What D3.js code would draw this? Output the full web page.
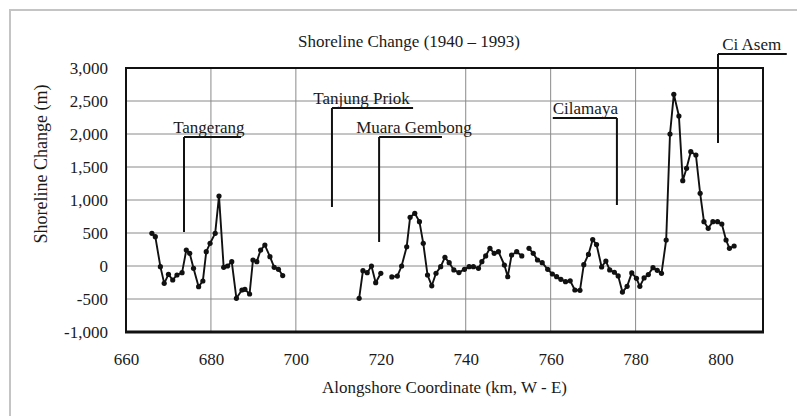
<!DOCTYPE html>
<html>
<head>
<meta charset="utf-8">
<script src="https://cdn.jsdelivr.net/npm/d3@7"></script>
<style>
  html, body { margin: 0; padding: 0; background: #fff; }
  svg { display: block; }
  svg text { font-family: "Liberation Serif", "Times New Roman", serif !important; fill: #1a1a1a; }
</style>
</head>
<body>
<svg id="chart" width="797" height="416"></svg>
<script>
// Shoreline change measured along the coast (km, west to east); null marks a gap in the survey
const km = [
  666.1, 666.9, 668.1, 669.0, 670.0, 671.0, 672.0, 673.2, 674.2, 675.0,
  675.9, 677.1, 678.1, 678.9, 679.8, 681.0, 681.9, 683.0, 683.9, 684.9,
  686.0, 687.3, 688.0, 689.1, 689.9, 690.8, 691.7, 692.7, 693.9, 694.9,
  695.9, 696.9,
  null,
  714.9, 715.8, 716.8, 717.8, 718.8, 720.0,
  null,
  722.6, 723.9, 724.9, 726.1, 726.9, 728.0, 729.1, 730.0, 731.0, 732.0,
  733.0, 734.1, 735.1, 736.1, 737.2, 738.4, 739.7, 740.8, 741.8, 743.0,
  743.8, 744.7, 745.7, 746.7, 747.7, 749.1, 749.9, 750.8, 752.0, 753.2,
  null,
  754.9, 755.9, 756.9, 758.0, 759.3, 760.4, 761.4, 762.4, 763.5, 764.6,
  765.7, 766.9, 767.8, 768.9, 769.9, 770.8, 772.0, 773.0, 773.9, 775.0,
  775.9, 776.9, 778.0, 779.1, 780.2, 781.0, 782.0, 783.0, 784.1, 785.1,
  786.1, 787.2, 788.1, 789.0, 790.2, 791.1, 792.0, 793.0, 794.2, 795.2,
  796.1, 797.1, 798.2, 799.3, 800.3, 801.3, 802.1, 803.2
];
const change = [
  495, 444, -10, -263, -126, -212, -136, -101, 242, 192,
  -35, -313, -227, 217, 344, 495, 1060, -20, 0, 66,
  -490, -364, -353, -424, 91, 66, 242, 318, 141, -20,
  -50, -145,
  null,
  -490, -71, -101, 0, -253, -111,
  null,
  -165, -152, 0, 292, 738, 798, 672, 344, -136, -300,
  -110, -10, 131, 50, -60, -100, -50, -10, -10, -35,
  66, 152, 268, 192, 217, 15, -162, 167, 217, 152,
  null,
  268, 192, 91, 50, -50, -121, -162, -202, -238, -225,
  -364, -368, 20, 175, 400, 325, -15, 75, -60, -95,
  -150, -395, -308, -105, -187, -308, -180, -130, -25, -65,
  -111, 394, 2000, 2601, 2273, 1293, 1480, 1732, 1682, 1101,
  672, 571, 672, 672, 636, 394, 268, 303
];

const xTicks = [660, 680, 700, 720, 740, 760, 780, 800];
const yTicks = [-1000, -500, 0, 500, 1000, 1500, 2000, 2500, 3000];
const xGridValues = [680, 700, 740, 760, 780];
const yGridValues = [-500, 0, 500, 1000, 1500, 2000, 2500];

// Coastal place names with their leader lines (km position, lower/upper end in metres)
const places = [
  { name: "Tangerang",     leaderKm: 673.66, low: 515,  high: 1955, barFrom: 673.66, barTo: 687.1, textKm: 671.1 },
  { name: "Tanjung Priok", leaderKm: 708.5,  low: 894,  high: 2394, barFrom: 708.5,  barTo: 727.6, textKm: 704.1 },
  { name: "Muara Gembong", leaderKm: 719.6,  low: 364,  high: 1955, barFrom: 719.6,  barTo: 734.4, textKm: 714.2 },
  { name: "Cilamaya",      leaderKm: 775.6,  low: 924,  high: 2242, barFrom: 760.5,  barTo: 775.6, textKm: 760.5 },
  { name: "Ci Asem",       leaderKm: 799.4,  low: 1864, high: 3212, barFrom: 799.4,  barTo: 815.6, textKm: 800.4 }
];

const svg = d3.select("#chart");
const plot = { left: 126, right: 763, top: 68, bottom: 332 };
const serif = '"Liberation Serif", "Times New Roman", serif';

// outer chart border
svg.append("rect")
  .attr("x", 10).attr("y", 10)
  .attr("width", 800).attr("height", 420)
  .attr("fill", "none").attr("stroke", "#c4c4c4").attr("stroke-width", 2);

const x = d3.scaleLinear().domain([660, 810]).range([plot.left, plot.right]);
const y = d3.scaleLinear().domain([-1000, 3000]).range([plot.bottom, plot.top]);

// gridlines
const grid = svg.append("g").attr("stroke", "#8a8a8a").attr("stroke-width", 1);
grid.selectAll("line.h").data(yGridValues).join("line")
  .attr("x1", plot.left).attr("x2", plot.right)
  .attr("y1", d => y(d)).attr("y2", d => y(d));
grid.selectAll("line.v").data(xGridValues).join("line")
  .attr("y1", plot.top).attr("y2", plot.bottom)
  .attr("x1", d => x(d)).attr("x2", d => x(d));

// plot frame
svg.append("rect")
  .attr("x", plot.left).attr("y", plot.top)
  .attr("width", plot.right - plot.left).attr("height", plot.bottom - plot.top)
  .attr("fill", "none").attr("stroke", "#111").attr("stroke-width", 2);
svg.append("line")
  .attr("x1", plot.left - 1).attr("x2", plot.right + 1)
  .attr("y1", plot.bottom).attr("y2", plot.bottom)
  .attr("stroke", "#111").attr("stroke-width", 3);

// axes
const fmt = d => d3.format(",")(d).replace("\u2212", "-");
const yAxis = svg.append("g")
  .attr("transform", `translate(${plot.left},0)`)
  .call(d3.axisLeft(y).tickValues(yTicks).tickFormat(fmt).tickSize(0).tickPadding(18));
yAxis.attr("font-family", null).style("font-family", serif);
yAxis.select(".domain").remove();
yAxis.selectAll("text").style("font-family", serif).style("font-size", "17px");

const xAxis = svg.append("g")
  .attr("transform", `translate(0,${plot.bottom})`)
  .call(d3.axisBottom(x).tickValues(xTicks).tickFormat(d3.format("d")).tickSize(0).tickPadding(21));
xAxis.attr("font-family", null).style("font-family", serif);
xAxis.select(".domain").remove();
xAxis.selectAll("text").style("font-family", serif).style("font-size", "17px");

// titles
svg.append("text")
  .attr("x", 409).attr("y", 47)
  .attr("text-anchor", "middle").style("font-size", "17px")
  .text("Shoreline Change (1940 \u2013 1993)");
svg.append("text")
  .attr("x", (plot.left + plot.right) / 2).attr("y", 393)
  .attr("text-anchor", "middle").style("font-size", "17px")
  .text("Alongshore Coordinate (km, W - E)");
svg.append("text")
  .attr("transform", "translate(47,164) rotate(-90)")
  .attr("text-anchor", "middle").style("font-size", "18px")
  .text("Shoreline Change (m)");

// place-name callouts
const callouts = svg.append("g").attr("stroke", "#111").attr("stroke-width", 2);
places.forEach(p => {
  callouts.append("line")
    .attr("x1", x(p.leaderKm)).attr("x2", x(p.leaderKm))
    .attr("y1", y(p.high)).attr("y2", y(p.low));
  callouts.append("line")
    .attr("x1", x(p.barFrom)).attr("x2", x(p.barTo))
    .attr("y1", y(p.high)).attr("y2", y(p.high));
  svg.append("text")
    .attr("x", x(p.textKm)).attr("y", y(p.high) - 4)
    .style("font-size", "17px")
    .text(p.name);
});

// shoreline change series
const pts = km.map((k, i) => ({ k, v: change[i] }));
const line = d3.line()
  .defined(d => d.v !== null)
  .x(d => x(d.k)).y(d => y(d.v));
svg.append("path")
  .datum(pts)
  .attr("d", line)
  .attr("fill", "none").attr("stroke", "#111").attr("stroke-width", 1.9)
  .attr("stroke-linejoin", "round");
svg.append("g").selectAll("circle")
  .data(pts.filter(d => d.v !== null))
  .join("circle")
  .attr("cx", d => x(d.k)).attr("cy", d => y(d.v))
  .attr("r", 2.6).attr("fill", "#111");
</script>
</body>
</html>
